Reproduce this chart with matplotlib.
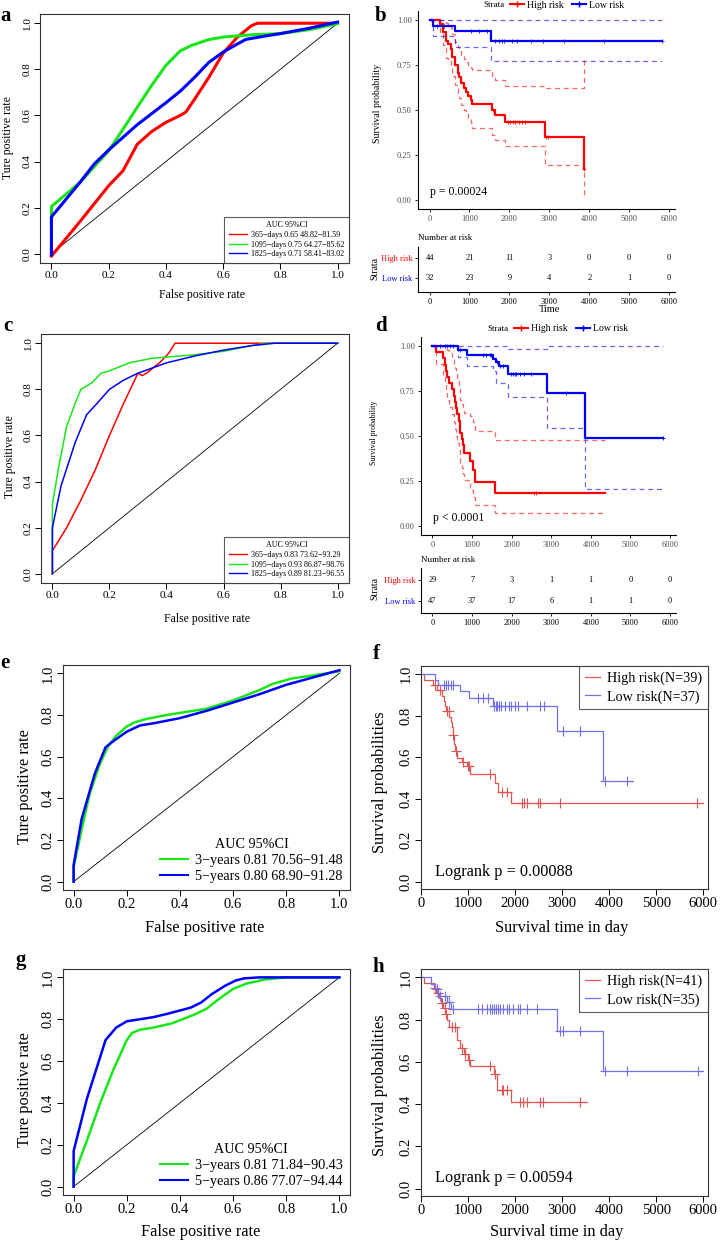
import matplotlib
matplotlib.use('Agg')
import matplotlib.pyplot as plt
import numpy as np
from matplotlib.lines import Line2D

W, H = 721, 1241

plt.rcParams['font.family'] = ['Liberation Serif', 'DejaVu Serif']

RED, GREEN, BLUE = '#ff0000', '#19e619', '#0000ff'
KM_RED, KM_BLUE = '#e05454', '#7070f0'

# ---------------- ROC data ----------------
a_red_fpr = [0, 0.1, 0.2, 0.25, 0.3, 0.35, 0.4, 0.45, 0.47, 0.5, 0.55, 0.6, 0.65, 0.7, 0.72, 1.0]
a_red_tpr = [-0.01, 0.14, 0.295, 0.36, 0.475, 0.53, 0.57, 0.60, 0.615, 0.67, 0.765, 0.87, 0.94, 0.99, 1.0, 1.0]
a_green_fpr = [0, 0, 0.1, 0.2, 0.25, 0.3, 0.35, 0.4, 0.45, 0.49, 0.55, 0.6, 0.7, 0.8, 0.9, 1.0]
a_green_tpr = [0, 0.205, 0.31, 0.447, 0.54, 0.636, 0.73, 0.817, 0.88, 0.904, 0.929, 0.94, 0.95, 0.955, 0.972, 0.998]
a_blue_fpr = [0, 0, 0.1, 0.15, 0.2, 0.3, 0.4, 0.45, 0.5, 0.55, 0.6, 0.65, 0.68, 0.75, 0.8, 0.9, 1.0]
a_blue_tpr = [-0.005, 0.16, 0.31, 0.39, 0.45, 0.56, 0.655, 0.705, 0.765, 0.83, 0.875, 0.91, 0.93, 0.945, 0.955, 0.978, 1.005]
a_labels = ['365\u2212days 0.65 48.82\u221281.59', '1095\u2212days 0.75 64.27\u221285.62',
            '1825\u2212days 0.71 58.41\u221283.02']

c_red_fpr = [0, 0, 0.05, 0.1, 0.15, 0.2, 0.25, 0.3, 0.315, 0.33, 0.38, 0.41, 0.43, 1.0]
c_red_tpr = [0, 0.1, 0.2, 0.32, 0.45, 0.6, 0.74, 0.87, 0.86, 0.87, 0.92, 0.96, 1.0, 1.0]
c_green_fpr = [0, 0, 0.02, 0.05, 0.08, 0.1, 0.14, 0.17, 0.2, 0.27, 0.35, 0.5, 0.6, 0.7, 0.75, 1.0]
c_green_tpr = [0, 0.3, 0.45, 0.64, 0.74, 0.8, 0.83, 0.87, 0.88, 0.915, 0.935, 0.95, 0.965, 0.99, 1.0, 1.0]
c_blue_fpr = [0, 0, 0.03, 0.08, 0.12, 0.15, 0.2, 0.25, 0.3, 0.4, 0.5, 0.6, 0.7, 0.78, 1.0]
c_blue_tpr = [0, 0.2, 0.38, 0.57, 0.69, 0.73, 0.8, 0.84, 0.87, 0.915, 0.945, 0.97, 0.99, 1.0, 1.0]
c_labels = ['365\u2212days 0.83 73.62\u221293.29', '1095\u2212days 0.93 86.87\u221298.76',
            '1825\u2212days 0.89 81.23\u221296.55']

e_green_fpr = [0, 0, 0.03, 0.06, 0.1, 0.13, 0.16, 0.2, 0.23, 0.27, 0.35, 0.5, 0.6, 0.7, 0.75, 0.82, 0.9, 1.0]
e_green_tpr = [0, 0.07, 0.25, 0.42, 0.57, 0.65, 0.70, 0.745, 0.765, 0.78, 0.80, 0.83, 0.87, 0.92, 0.95, 0.975, 0.99, 1.01]
e_blue_fpr = [0, 0, 0.03, 0.08, 0.12, 0.15, 0.2, 0.25, 0.3, 0.4, 0.5, 0.6, 0.7, 0.8, 0.9, 1.0]
e_blue_tpr = [0, 0.08, 0.30, 0.52, 0.645, 0.675, 0.72, 0.75, 0.76, 0.785, 0.82, 0.86, 0.90, 0.945, 0.98, 1.015]
e_labels = ['3\u2212years 0.81 70.56\u221291.48', '5\u2212years 0.80 68.90\u221291.28']

g_green_fpr = [0, 0, 0.05, 0.1, 0.15, 0.2, 0.22, 0.25, 0.3, 0.37, 0.45, 0.5, 0.55, 0.6, 0.65, 0.72, 0.8, 1.0]
g_green_tpr = [0, 0.05, 0.22, 0.40, 0.56, 0.70, 0.735, 0.75, 0.76, 0.78, 0.82, 0.85, 0.90, 0.945, 0.97, 0.99, 1.0, 1.0]
g_blue_fpr = [0, 0, 0.05, 0.12, 0.16, 0.2, 0.25, 0.3, 0.35, 0.44, 0.48, 0.52, 0.57, 0.61, 0.64, 0.7, 1.0]
g_blue_tpr = [0, 0.17, 0.42, 0.70, 0.76, 0.79, 0.80, 0.81, 0.825, 0.855, 0.88, 0.92, 0.96, 0.985, 0.995, 1.0, 1.0]
g_labels = ['3\u2212years 0.81 71.84\u221290.43', '5\u2212years 0.86 77.07\u221294.44']

# ---------------- survival data ----------------
b_high_t = [270, 330, 400, 450, 530, 570, 640, 700, 740, 800, 860, 920, 970, 1030, 1070, 1560, 1640, 1900, 2880, 3870]
b_high_s = [0.977, 0.932, 0.886, 0.864, 0.841, 0.795, 0.75, 0.705, 0.682, 0.648, 0.625, 0.602, 0.58, 0.557,
            0.535, 0.50, 0.47, 0.435, 0.348, 0.174]
b_high_up = [1.0, 1.0, 0.985, 0.97, 0.955, 0.92, 0.88, 0.85, 0.83, 0.80, 0.785, 0.765, 0.75, 0.735, 0.72,
             0.69, 0.665, 0.635, 0.62, 0.79]
b_high_lo = [0.93, 0.86, 0.79, 0.77, 0.74, 0.69, 0.64, 0.59, 0.565, 0.53, 0.50, 0.48, 0.455, 0.43, 0.40,
             0.36, 0.335, 0.30, 0.195, 0.03]
b_high_end = 3880
b_high_cens = [1600, 1960, 2020, 2080, 2150, 2230, 2320, 2400, 2920, 2960, 3880]
b_low_t = [80, 640, 1530]
b_low_s = [0.969, 0.937, 0.885]
b_low_up = [1.0, 1.0, 1.0]
b_low_lo = [0.91, 0.85, 0.77]
b_low_end = 5830
b_low_cens = [190, 360, 1030, 1240, 1450, 1650, 1740, 1820, 1860, 2070, 2200, 2530, 2830, 3370, 4370, 5830]
b_risk_high = [44, 21, 11, 3, 0, 0, 0]
b_risk_low = [32, 23, 9, 4, 2, 1, 0]

d_high_t = [84, 268, 310, 335, 377, 418, 502, 536, 561, 602, 628, 661, 686, 703, 745, 770, 787, 937, 1021, 1063, 1590]
d_high_s = [0.966, 0.931, 0.897, 0.862, 0.828, 0.793, 0.759, 0.724, 0.690, 0.655, 0.621, 0.586, 0.552, 0.517,
            0.483, 0.448, 0.405, 0.36, 0.31, 0.245, 0.185]
d_high_up = [1.0, 1.0, 1.0, 1.0, 0.98, 0.96, 0.93, 0.90, 0.88, 0.86, 0.82, 0.78, 0.74, 0.70, 0.68, 0.66,
             0.63, 0.61, 0.58, 0.525, 0.475]
d_high_lo = [0.90, 0.84, 0.79, 0.74, 0.70, 0.66, 0.62, 0.58, 0.54, 0.50, 0.46, 0.42, 0.38, 0.35, 0.32, 0.29,
             0.255, 0.2, 0.16, 0.115, 0.07]
d_high_end = 4368
d_high_cens = [2570, 2610]
d_low_t = [640, 870, 1530, 1610, 1680, 1910, 2880, 3860]
d_low_s = [0.978, 0.951, 0.926, 0.911, 0.889, 0.842, 0.737, 0.491]
d_low_up = [1.0, 1.0, 1.0, 1.0, 1.0, 0.985, 1.0, 1.0]
d_low_lo = [0.937, 0.887, 0.86, 0.795, 0.795, 0.717, 0.542, 0.205]
d_low_end = 5833
d_low_cens = [180, 310, 370, 430, 520, 690, 1270, 1360, 1440, 1480, 1640, 1700, 1780, 1980, 2030, 2080,
              2120, 2200, 2300, 2490, 3360, 5833]
d_risk_high = [29, 7, 3, 1, 1, 0, 0]
d_risk_low = [47, 37, 17, 6, 1, 1, 0]

f_high_t = [60, 260, 350, 440, 490, 510, 530, 600, 630, 650, 670, 700, 720, 760, 870, 970, 1040, 1580, 1640, 1910]
f_high_s = [0.974, 0.949, 0.923, 0.897, 0.872, 0.846, 0.821, 0.795, 0.769, 0.744, 0.705, 0.666, 0.63, 0.595,
            0.578, 0.56, 0.52, 0.475, 0.432, 0.378]
f_high_end = 6000
f_high_cens = [300, 400, 560, 590, 690, 740, 900, 990, 1010, 1470, 1720, 1820, 2140, 2180, 2250, 2480,
               2530, 2960, 5860]
f_low_t = [300, 370, 830, 1010, 1540, 2880, 3870]
f_low_s = [0.973, 0.946, 0.919, 0.884, 0.848, 0.728, 0.485]
f_low_end = 4510
f_low_cens = [490, 530, 580, 630, 690, 1220, 1320, 1430, 1560, 1590, 1610, 1660, 1710, 1790, 1860, 1910,
              2000, 2070, 2250, 2530, 2610, 3020, 3380, 3910, 4370]

h_high_t = [60, 270, 320, 380, 420, 470, 520, 560, 590, 760, 830, 920, 1000, 1040, 1560, 1620, 1910]
h_high_s = [0.976, 0.951, 0.927, 0.902, 0.878, 0.853, 0.829, 0.800, 0.765, 0.705, 0.664, 0.637, 0.61, 0.581,
            0.544, 0.469, 0.41]
h_high_end = 3520
h_high_cens = [300, 360, 450, 510, 540, 650, 720, 865, 935, 1010, 1466, 1570, 1714, 1750, 1820, 2104, 2175,
               2246, 2529, 2600, 3379]
h_low_t = [210, 300, 360, 560, 640, 2880, 3860]
h_low_s = [0.971, 0.943, 0.914, 0.884, 0.852, 0.746, 0.559]
h_low_end = 6000
h_low_cens = [330, 400, 520, 600, 690, 1218, 1289, 1395, 1466, 1502, 1551, 1594, 1643, 1679, 1750, 1835,
              1877, 1962, 2069, 2104, 2246, 2472, 2954, 3011, 3379, 3910, 4371, 5880]

km_ticks = [0, 1000, 2000, 3000, 4000, 5000, 6000]
roc_ticks = [0, 0.2, 0.4, 0.6, 0.8, 1.0]


def px_axes(fig, x0, y0, x1, y1):
    return fig.add_axes([x0 / W, 1 - y1 / H, (x1 - x0) / W, (y1 - y0) / H])


def ftext(fig, x, y, s, **kw):
    fig.text(x / W, 1 - y / H, s, **kw)


def base_axes(fig, box, xlim, ylim, xticks, yticks, xfmt, yfmt, fs):
    ax = px_axes(fig, *box)
    ax.set_xlim(xlim)
    ax.set_ylim(ylim)
    ax.set_xticks(xticks, [xfmt(v) for v in xticks], fontsize=fs)
    ax.set_yticks(yticks, [yfmt(v) for v in yticks], fontsize=fs, rotation=90, va='center')
    for sp in ax.spines.values():
        sp.set_linewidth(0.8)
        sp.set_color('#333333')
    ax.tick_params(direction='out', length=4, width=0.7, pad=2)
    return ax


def roc_panel(fig, box, curves, lw, fs, leg_fs, framed):
    fmt = lambda v: f'{v:.1f}'
    ax = base_axes(fig, box, (-0.04, 1.04), (-0.04, 1.04), roc_ticks, roc_ticks, fmt, fmt, fs)
    ax.plot([0, 1], [0, 1], color='black', lw=0.6)
    for fpr, tpr, color, label in curves:
        ax.plot(fpr, tpr, color=color, lw=lw, label=label, solid_joinstyle='round')
    leg = ax.legend(loc='lower right', title='AUC 95%CI', fontsize=leg_fs, title_fontsize=leg_fs,
                    frameon=framed, fancybox=False, borderaxespad=0 if framed else 0.2,
                    handlelength=2.2 if framed else 2.0, handletextpad=0.5, labelspacing=0.2,
                    borderpad=0.6 if framed else 0.3)
    if framed:
        leg.get_frame().set_edgecolor('#333333')
        leg.get_frame().set_linewidth(0.8)
    for line in leg.get_lines():
        line.set_linewidth(1.0 if framed else 1.5)
    return ax


def step_line(ax, t, s, end, **kw):
    x = np.r_[0, t, end]
    y = np.r_[1, s, s[-1]]
    ax.step(x, y, where='post', **kw)


def censor_y(t, s, cens):
    return np.r_[1, s][np.searchsorted(t, cens, side='right')]


def km_gg_panel(fig, box, tab_box, tab_ylim, high, low, risk_high, risk_low, p_text):
    ax = px_axes(fig, *box)
    ax.set_xlim(-290, 6150)
    ax.set_ylim(-0.05, 1.05)
    for t, s, up, lo, end, cens, color in (high, low):
        step_line(ax, t, up, end, color=color, lw=0.9, ls=(0, (4, 3)), alpha=0.6)
        step_line(ax, t, lo, end, color=color, lw=0.9, ls=(0, (4, 3)), alpha=0.6)
        step_line(ax, t, s, end, color=color, lw=1.6)
        ax.plot(cens, censor_y(t, s, cens), ls='none', marker='+', color=color, ms=3.5, mew=0.6)
    ax.spines[['top', 'right']].set_visible(False)
    for sp in ax.spines.values():
        sp.set_linewidth(0.8)
    ax.set_xticks(km_ticks, [str(v) for v in km_ticks])
    ax.set_yticks([0, 0.25, 0.5, 0.75, 1.0], ['0.00', '0.25', '0.50', '0.75', '1.00'])
    ax.tick_params(direction='out', length=2.5, width=0.6, labelsize=6, labelcolor='#4d4d4d', pad=2)
    ax.text(20, 0.03, p_text, fontsize=8.5, ha='left', va='baseline')

    tab = px_axes(fig, *tab_box)
    tab.set_xlim(-290, 6150)
    tab.set_ylim(*tab_ylim)
    tab.spines[['top', 'right']].set_visible(False)
    for sp in tab.spines.values():
        sp.set_linewidth(0.8)
    tab.set_xticks(km_ticks, [str(v) for v in km_ticks])
    tab.set_yticks([1, 0], ['High risk', 'Low risk'])
    tab.tick_params(direction='out', length=2.5, width=0.6, labelsize=6, pad=1.5)
    tab.get_yticklabels()[0].set_color(RED)
    tab.get_yticklabels()[1].set_color(BLUE)
    for i, x in enumerate(km_ticks):
        tab.text(x, 1, str(risk_high[i]), fontsize=6, ha='center', va='center')
        tab.text(x, 0, str(risk_low[i]), fontsize=6, ha='center', va='center')
    return ax, tab


def km_base_panel(fig, box, high, low, leg_labels, p_text):
    xf = lambda v: f'{v:d}'
    yf = lambda v: f'{v:.1f}'
    ax = base_axes(fig, box, (0, 6100), (-0.035, 1.04), km_ticks, [0, 0.2, 0.4, 0.6, 0.8, 1.0], xf, yf, 10.5)
    handles = []
    for t, s, end, cens, color in (high, low):
        step_line(ax, t, s, end, color=color, lw=0.9)
        ax.plot(cens, censor_y(t, s, cens), ls='none', marker='+', color=color, ms=7, mew=0.8)
        handles.append(Line2D([], [], color=color, lw=0.9))
    leg = ax.legend(handles, leg_labels, loc='upper right', fontsize=10.2, frameon=True, fancybox=False,
                    borderaxespad=0, handlelength=1.1, handletextpad=0.5, labelspacing=0.35, borderpad=0.4)
    leg.get_frame().set_edgecolor('#333333')
    leg.get_frame().set_linewidth(0.8)
    ax.text(300, 0.03, p_text, fontsize=11.7, ha='left', va='baseline')
    return ax


def gg_legend(fig, x, y):
    ftext(fig, x, y, 'Strata', fontsize=6.5, ha='left', va='center')
    handles = [Line2D([], [], color=RED, lw=1.5, marker='+', ms=4),
               Line2D([], [], color=BLUE, lw=1.5, marker='+', ms=4)]
    fig.legend(handles, ['High risk', 'Low risk'], loc='center left',
               bbox_to_anchor=((x + 27) / W, 1 - y / H), ncol=2, frameon=False, fontsize=7,
               handlelength=1.4, handletextpad=0.3, columnspacing=0.9, borderpad=0, borderaxespad=0)


def main():
    fig = plt.figure(figsize=(W / 100, H / 100), dpi=100)

    # a
    roc_panel(fig, (40, 14, 349, 263),
              [(a_red_fpr, a_red_tpr, RED, a_labels[0]),
               (a_green_fpr, a_green_tpr, GREEN, a_labels[1]),
               (a_blue_fpr, a_blue_tpr, BLUE, a_labels[2])], 2.2, 8, 5.8, True)
    ftext(fig, 8, 138, 'Ture positive rate', fontsize=8.5, rotation=90, ha='center', va='center')
    ftext(fig, 202, 295, 'False positive rate', fontsize=8.5, ha='center', va='center')

    # c
    roc_panel(fig, (41, 334, 349, 583),
              [(c_red_fpr, c_red_tpr, RED, c_labels[0]),
               (c_green_fpr, c_green_tpr, GREEN, c_labels[1]),
               (c_blue_fpr, c_blue_tpr, BLUE, c_labels[2])], 1.1, 8, 5.8, True)
    ftext(fig, 10, 457, 'Ture positive rate', fontsize=8.5, rotation=90, ha='center', va='center')
    ftext(fig, 207, 619, 'False positive rate', fontsize=8.5, ha='center', va='center')

    # e
    roc_panel(fig, (63, 665, 350, 890),
              [(e_green_fpr, e_green_tpr, GREEN, e_labels[0]),
               (e_blue_fpr, e_blue_tpr, BLUE, e_labels[1])], 1.8, 10.5, 10.2, False)
    ftext(fig, 25, 787, 'Ture positive rate', fontsize=11.8, rotation=90, ha='center', va='center')
    ftext(fig, 205, 928, 'False positive rate', fontsize=11.8, ha='center', va='center')

    # g
    roc_panel(fig, (63, 969, 350, 1195),
              [(g_green_fpr, g_green_tpr, GREEN, g_labels[0]),
               (g_blue_fpr, g_blue_tpr, BLUE, g_labels[1])], 1.8, 10.5, 10.2, False)
    ftext(fig, 25, 1090, 'Ture positive rate', fontsize=11.8, rotation=90, ha='center', va='center')
    ftext(fig, 201, 1232, 'False positive rate', fontsize=11.8, ha='center', va='center')

    # b
    km_gg_panel(fig, (418, 11, 675, 209), (418, 247, 675, 292), (-0.7, 1.55),
                (b_high_t, b_high_s, b_high_up, b_high_lo, b_high_end, b_high_cens, RED),
                (b_low_t, b_low_s, b_low_up, b_low_lo, b_low_end, b_low_cens, BLUE),
                b_risk_high, b_risk_low, 'p = 0.00024')
    gg_legend(fig, 483, 5)
    ftext(fig, 377, 103, 'Survival probability', fontsize=7, rotation=90, ha='center', va='center')
    ftext(fig, 418, 238, 'Number at risk', fontsize=6.5, ha='left', va='center')
    ftext(fig, 375, 268, 'Strata', fontsize=7, rotation=90, ha='center', va='center')
    ftext(fig, 550, 310, 'Time', fontsize=7.5, ha='center', va='center')

    # d
    km_gg_panel(fig, (421, 337, 676, 535), (421, 568, 676, 613), (-0.57, 1.57),
                (d_high_t, d_high_s, d_high_up, d_high_lo, d_high_end, d_high_cens, RED),
                (d_low_t, d_low_s, d_low_up, d_low_lo, d_low_end, d_low_cens, BLUE),
                d_risk_high, d_risk_low, 'p < 0.0001')
    gg_legend(fig, 487, 329)
    ftext(fig, 374, 433, 'Survival probability', fontsize=5.8, rotation=90, ha='center', va='center')
    ftext(fig, 421, 560, 'Number at risk', fontsize=6.5, ha='left', va='center')
    ftext(fig, 375, 588, 'Strata', fontsize=7, rotation=90, ha='center', va='center')

    # f
    km_base_panel(fig, (421, 666, 708, 889),
                  (f_high_t, f_high_s, f_high_end, f_high_cens, KM_RED),
                  (f_low_t, f_low_s, f_low_end, f_low_cens, KM_BLUE),
                  ['High risk(N=39)', 'Low risk(N=37)'], 'Logrank p = 0.00088')
    ftext(fig, 380, 782, 'Survival probabilities', fontsize=11.8, rotation=90, ha='center', va='center')
    ftext(fig, 562, 928, 'Survival time in day', fontsize=11.8, ha='center', va='center')

    # h
    km_base_panel(fig, (421, 969, 708, 1196),
                  (h_high_t, h_high_s, h_high_end, h_high_cens, KM_RED),
                  (h_low_t, h_low_s, h_low_end, h_low_cens, KM_BLUE),
                  ['High risk(N=41)', 'Low risk(N=35)'], 'Logrank p = 0.00594')
    ftext(fig, 380, 1085, 'Survival probabilities', fontsize=11.8, rotation=90, ha='center', va='center')
    ftext(fig, 557, 1232, 'Survival time in day', fontsize=11.8, ha='center', va='center')

    # panel letters
    for letter, x, y in [('a', 0, 21), ('b', 375, 21), ('c', 3, 331), ('d', 375, 331),
                         ('e', 0, 668), ('f', 373, 659), ('g', 16, 965), ('h', 372, 972)]:
        ftext(fig, x, y, letter, fontsize=15, fontweight='bold', ha='left', va='baseline')

    fig.savefig('out.png', dpi=100)


if __name__ == '__main__':
    main()
